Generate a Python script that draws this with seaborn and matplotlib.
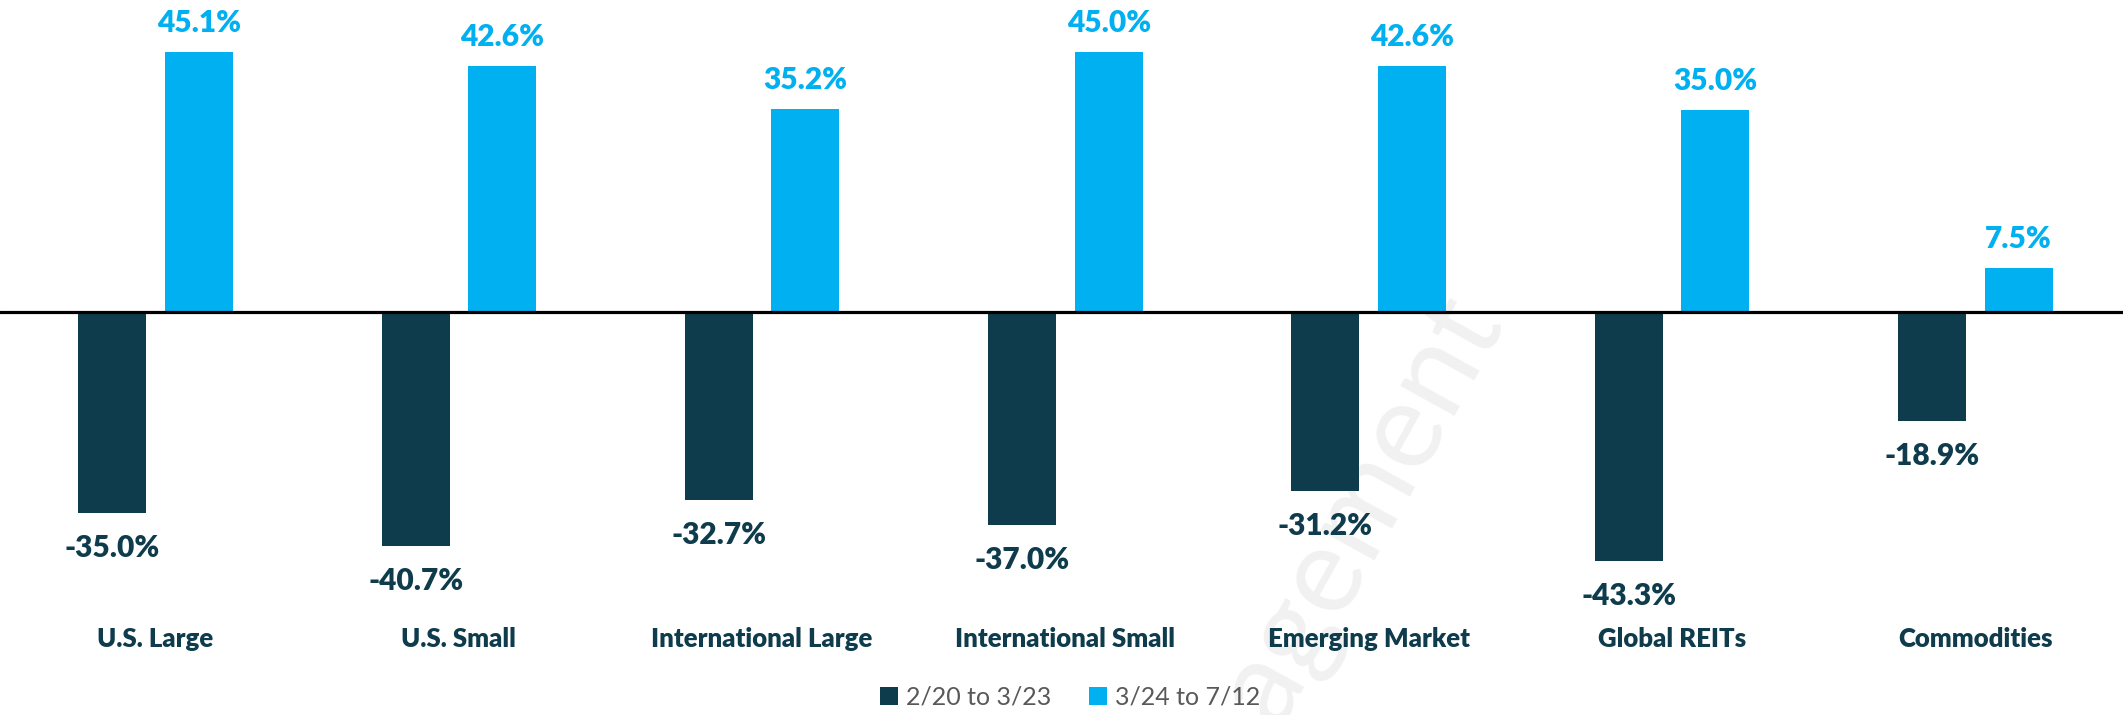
"""
Grouped bar chart: asset class returns in the drawdown vs. the rebound.
"""

import matplotlib
matplotlib.use("Agg")
import matplotlib.pyplot as plt
import pandas as pd
import seaborn as sns

categories = [
    "U.S. Large", "U.S. Small", "International Large", "International Small",
    "Emerging Market", "Global REITs", "Commodities",
]
periods = ["2/20 to 3/23", "3/24 to 7/12"]
drawdown = [-35.0, -40.7, -32.7, -37.0, -31.2, -43.3, -18.9]
rebound = [45.1, 42.6, 35.2, 45.0, 42.6, 35.0, 7.5]

DARK = "#0E3C4C"
LIGHT = "#00B0F0"
palette = {periods[0]: DARK, periods[1]: LIGHT}

df = pd.DataFrame({
    "category": categories * 2,
    "period": [periods[0]] * len(categories) + [periods[1]] * len(categories),
    "value": drawdown + rebound,
})

sns.set_style("white")
plt.rcParams["font.family"] = ["Lato", "DejaVu Sans"]

fig = plt.figure(figsize=(21.23, 7.15), dpi=100)
ax = fig.add_axes([0, 0, 1, 1])

# faint watermark behind the bars
ax.text(0.612, 0.15, "Management", transform=ax.transAxes, rotation=61,
        fontsize=88, color="#F1F1F1", ha="center", va="center", zorder=0)

sns.barplot(
    data=df, x="category", y="value", hue="period", order=categories,
    hue_order=periods, palette=palette, width=0.571, gap=0.215,
    linewidth=0, saturation=1, errorbar=None, legend=True, ax=ax,
)

ax.axhline(0, color="black", lw=2.3, zorder=5)
ax.set_xlim(-0.513, len(categories) - 0.513)
ax.set_ylim(-70.0, 54.1)
ax.set_xlabel("")
ax.set_ylabel("")
ax.set_xticks([])
ax.set_yticks([])
sns.despine(ax=ax, left=True, bottom=True)

# value labels
for container, color in zip(ax.containers, [DARK, LIGHT]):
    for bar in container:
        h = bar.get_height()
        off = 14.4 if h >= 0 else -31.7
        ax.annotate(f"{h:.1f}%", (bar.get_x() + bar.get_width() / 2, h),
                    xytext=(0, off), textcoords="offset points",
                    ha="center", va="baseline", fontsize=21.5,
                    fontweight="heavy", color=color)

# category labels under the bars
for i, cat in enumerate(categories):
    ax.text(i, -58.2, cat, ha="center", va="baseline", fontsize=18.5,
            fontweight="heavy", color=DARK)

handles, labels = ax.get_legend_handles_labels()
ax.get_legend().remove()
fig.legend(handles, labels, loc="center", bbox_to_anchor=(0.504, 0.025),
           ncol=2, frameon=False, fontsize=18, labelcolor="#595959",
           handlelength=0.75, handleheight=0.75, handletextpad=0.3,
           columnspacing=1.5)

fig.savefig("out.png", dpi=100)
